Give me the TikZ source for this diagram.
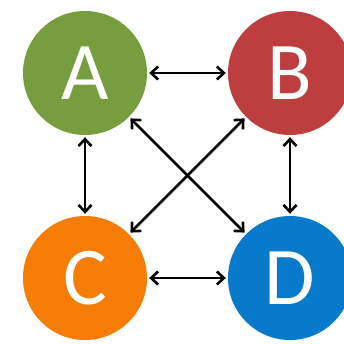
\documentclass[tikz,border=0pt]{standalone}
\usepackage{fontspec}
\setmainfont{Carlito}
\usetikzlibrary{arrows.meta}
\definecolor{nodegreen}{RGB}{118,158,62}
\definecolor{nodered}{RGB}{190,62,64}
\definecolor{nodeorange}{RGB}{245,124,5}
\definecolor{nodeblue}{RGB}{8,122,204}
\begin{document}
\begin{tikzpicture}[x=1pt, y=-1pt,
      ball/.style={circle, minimum size=124pt, inner sep=0pt, text=white, font=\fontsize{82}{82}\selectfont},
      link/.style={{Straight Barb[length=7pt,width=13pt]}-{Straight Barb[length=7pt,width=13pt]}, line width=2.6pt, shorten <=2pt, shorten >=2pt}
    ]
      \clip (0,0) rectangle (344,344);
      \fill[white] (0,0) rectangle (344,344);

      % the four nodes
      \node[ball, fill=nodegreen] (A) at (85,73) {A};
      \node[ball, fill=nodered] (B) at (290,73) {B};
      \node[ball, fill=nodeorange] (C) at (85,278) {C};
      \node[ball, fill=nodeblue] (D) at (290,278) {D};

      % connectors
      \draw[link] (A) -- (B);
      \draw[link] (C) -- (D);
      \draw[link] (A) -- (C);
      \draw[link] (B) -- (D);
      \draw[link] (A) -- (D);
      \draw[link] (B) -- (C);
    \end{tikzpicture}
\end{document}
